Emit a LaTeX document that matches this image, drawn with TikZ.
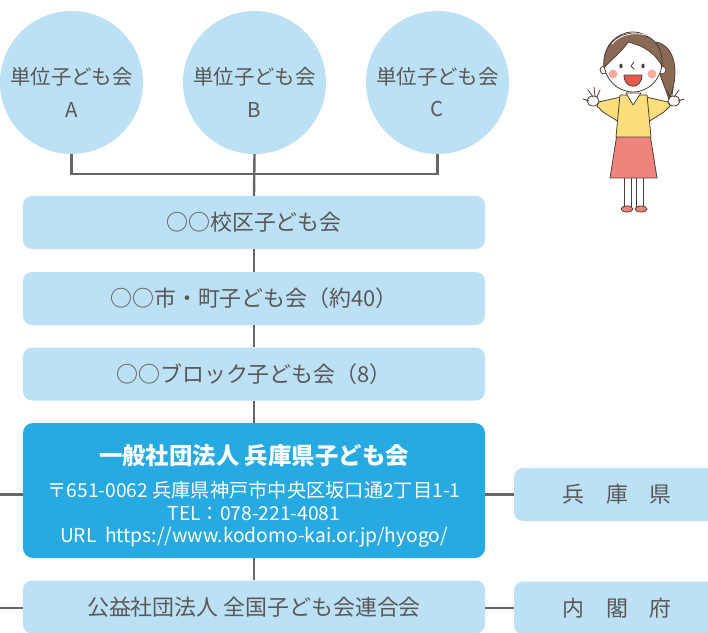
\documentclass[tikz,border=0pt]{standalone}
\usepackage{fontspec}
\setmainfont{Noto Sans CJK JP}
\usetikzlibrary{positioning,calc}

\definecolor{paleblue}{HTML}{BCE0F4}
\definecolor{hqblue}{HTML}{27AAE1}
\definecolor{inkgray}{HTML}{595757}
\definecolor{linegray}{HTML}{666666}
\definecolor{hairbrown}{HTML}{8A6A55}
\definecolor{outline}{HTML}{4E4038}
\definecolor{shirtyellow}{HTML}{FBDF7C}
\definecolor{skirtpink}{HTML}{F0837C}
\definecolor{cheekpink}{HTML}{F7A9A2}
\definecolor{mouthred}{HTML}{E65A50}

\begin{document}
\begin{tikzpicture}[x=1bp, y=-1bp,
    unit/.style={circle, fill=paleblue, minimum size=143bp, inner sep=0pt},
    unittext/.style={text=inkgray, align=center, font=\fontsize{20.5}{33}\selectfont},
    level/.style={rectangle, rounded corners=9bp, fill=paleblue, text=inkgray,
        minimum width=462bp, minimum height=53bp, font=\fontsize{22}{26}\selectfont},
    gov/.style={level, minimum width=206bp},
    hq/.style={rectangle, rounded corners=10bp, fill=hqblue,
        minimum width=462bp, minimum height=135bp},
    hqtext/.style={text=white, align=center, font=\fontsize{19.3}{22.5}\selectfont},
    link/.style={draw=linegray, line width=2.4bp},
    fig/.style={draw=outline, line width=0.8bp, line join=round, line cap=round}]

    \useasboundingbox (0,0) rectangle (708,633);

    % =========================================================================
    % Unit clubs A, B, C
    % =========================================================================
    \foreach \nm/\cx in {A/71.5, B/254.5, C/437.5} {
        \node[unit] (unit\nm) at (\cx, 82.5) {};
        \node[unittext] (unit\nm-t) at (\cx, 92) {単位子ども会\\\nm};
    }

    % =========================================================================
    % Levels (stacked boxes)
    % =========================================================================
    \node[level] (school) at (254, 222.5) {○○校区子ども会};
    \node[level] (city)   at (254, 298.5) {○○市・町子ども会（約40）};
    \node[level] (block)  at (254, 374)   {○○ブロック子ども会（8）};
    \node[hq] (pref-hq) at (254, 490.5) {};
    \node[hqtext] (pref-hq-t) at (254, 496) {%
        {\fontsize{23.5}{26}\selectfont\bfseries 一般社団法人 兵庫県子ども会}\\[11bp]
        〒651-0062 兵庫県神戸市中央区坂口通2丁目1-1\\
        TEL：078-221-4081\\
        URL\ \ https://www.kodomo-kai.or.jp/hyogo/};
    \node[level] (national) at (254, 607) {公益社団法人 全国子ども会連合会};

    % Government boxes on the right
    \node[gov] (pref-gov) at (617, 494.5) {兵　庫　県};
    \node[gov] (cabinet)  at (617, 608)   {内　閣　府};

    % =========================================================================
    % Connectors
    % =========================================================================
    \coordinate (bus) at (254, 174);
    \draw[link] (unitA.south) -- (unitA.south |- bus) -- (unitC.south |- bus) -- (unitC.south);
    \draw[link] (unitB.south) -- (school.north);
    \draw[link] (school.south) -- (city.north);
    \draw[link] (city.south) -- (block.north);
    \draw[link] (block.south) -- (pref-hq.north);
    \draw[link] (pref-hq.south) -- (national.north);

    \coordinate (edgeA) at (0, 494.5);
    \coordinate (edgeB) at (0, 608);
    \draw[link] (edgeA) -- (edgeA -| pref-hq.west);
    \draw[link] (pref-gov.west -| pref-hq.east) -- (pref-gov.west);
    \draw[link] (edgeB) -- (edgeB -| national.west);
    \draw[link] (cabinet.west -| national.east) -- (cabinet.west);

    % =========================================================================
    % Girl waving
    % =========================================================================
    \begin{scope}
        % ponytail
        \fill[hairbrown, fig] (656,42) .. controls (676,46) and (680,74) .. (669,100)
            .. controls (665,86) and (660,78) .. (658,66) -- cycle;
        % legs and shoes
        \filldraw[white, fig] (624,176) rectangle (631,206);
        \filldraw[white, fig] (636,176) rectangle (643,206);
        \filldraw[skirtpink, fig] (627,209) ellipse (6 and 3);
        \filldraw[skirtpink, fig] (641,209) ellipse (6 and 3);
        % arms
        \filldraw[shirtyellow, fig] (621,97) -- (599,102) -- (597,106) -- (603,112) -- (619,122) -- cycle;
        \filldraw[shirtyellow, fig] (646,97) -- (668,102) -- (670,106) -- (664,112) -- (648,122) -- cycle;
        % hands
        \foreach \hx/\sx in {593/1, 674/-1} {
            \filldraw[white, fig] (\hx,101) ellipse (6 and 5);
            \draw[fig] (\hx,97) -- ++(-5*\sx,-7);
            \draw[fig] (\hx+2*\sx,96) -- ++(-1*\sx,-9);
            \draw[fig] (\hx+4*\sx,97) -- ++(3*\sx,-7);
            \draw[fig] (\hx-4*\sx,101) -- ++(-6*\sx,-2);
        }
        % skirt
        \filldraw[skirtpink, fig] (617,134) -- (650,134) -- (657,178) -- (610,178) -- cycle;
        % shirt
        \filldraw[shirtyellow, fig] (620,95) -- (647,95) -- (651,137) -- (616,137) -- cycle;
        \filldraw[white, fig] (626,93) -- (641,93) -- (633,105) -- cycle;
        % head
        \filldraw[white, fig] (604,70) circle (4);
        \filldraw[white, fig] (662,70) circle (4);
        \filldraw[white, fig] (633,62) ellipse (29 and 30);
        \filldraw[hairbrown, fig] (604,68) .. controls (600,22) and (666,22) .. (662,66)
            .. controls (652,48) and (636,44) .. (628,42)
            .. controls (622,52) and (610,60) .. (604,68) -- cycle;
        \draw[white, line width=0.8bp] (612,44) .. controls (620,33) and (642,30) .. (654,39);
        % face
        \fill[cheekpink] (613,74) circle (4.5);
        \fill[cheekpink] (652,74) circle (4.5);
        \fill[outline] (621,66) ellipse (1.6 and 2.4);
        \fill[outline] (643,66) ellipse (1.6 and 2.4);
        \draw[fig] (634,62) -- (631,66) -- (634,69);
        \filldraw[mouthred, fig] (624,75) -- (642,75) .. controls (642,90) and (624,90) .. cycle;
    \end{scope}

\end{tikzpicture}
\end{document}
